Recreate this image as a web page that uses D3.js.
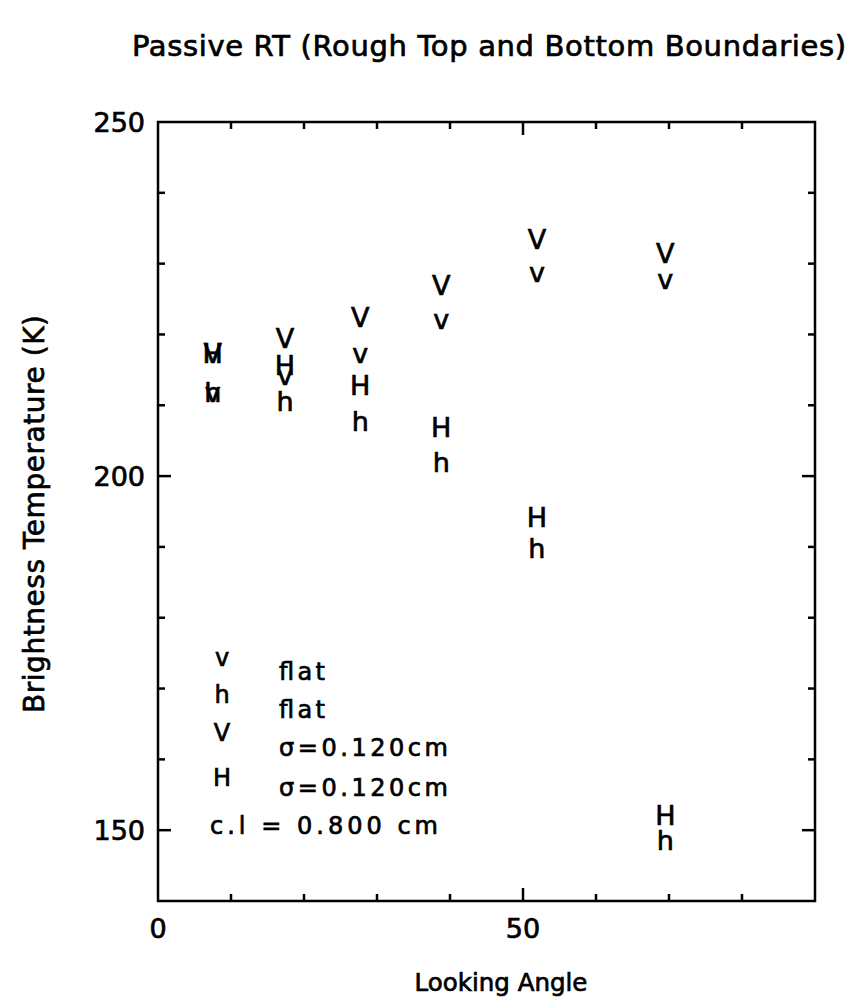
<!DOCTYPE html>
<html>
<head>
<meta charset="utf-8">
<title>Passive RT</title>
<script src="https://d3js.org/d3.v7.min.js"></script>
<style>
  body { margin: 0; background: #fff; }
  svg { display: block; }
  text { font-family: "DejaVu Sans", sans-serif; fill: #000; stroke: #000; stroke-width: 0.7px; }
</style>
</head>
<body>
<div id="chart"></div>
<script>
// data
const angles = [7.5, 17.4, 27.7, 38.8, 51.9, 69.5];
const vRough = [216.0, 218.1, 221.1, 225.6, 232.1, 230.1]; // V
const hRough = [216.0, 214.3, 211.5, 205.5, 192.8, 150.7]; // H
const vFlat  = [210.5, 212.9, 216.0, 220.8, 227.4, 226.4]; // v
const hFlat  = [210.5, 209.2, 206.4, 200.6, 188.4, 147.2]; // h

const xTicks = [0, 50];
const yTicks = [150, 200, 250];

const legendSymbols = ["v", "h", "V", "H"];
const legendLabels = ["flat", "flat", "\u03c3=0.120cm", "\u03c3=0.120cm"];
const noteText = "c.l = 0.800 cm";

const W = 850, H = 1005;
const pLeft = 158, pRight = 815, pTop = 122, pBottom = 901;

const svg = d3.select("#chart").append("svg")
  .attr("width", W).attr("height", H);

const x = d3.scaleLinear().domain([0, 90]).range([pLeft, pRight]);
const y = d3.scaleLinear().domain([140, 250]).range([pBottom, pTop]);

// frame
svg.append("rect")
  .attr("x", pLeft).attr("y", pTop)
  .attr("width", pRight - pLeft).attr("height", pBottom - pTop)
  .attr("fill", "none").attr("stroke", "#000").attr("stroke-width", 2.5);

// ticks: minor every 10, major at labelled values
function tickLen(v, majors) { return majors.includes(v) ? 13 : 7; }
const xt = d3.range(10, 90, 10);
const yt = d3.range(150, 250, 10);

const tk = svg.append("g").attr("stroke", "#000").attr("stroke-width", 2.5);
xt.forEach(v => {
  const L = tickLen(v, xTicks);
  tk.append("line").attr("x1", x(v)).attr("x2", x(v)).attr("y1", pBottom).attr("y2", pBottom - L);
  tk.append("line").attr("x1", x(v)).attr("x2", x(v)).attr("y1", pTop).attr("y2", pTop + L);
});
yt.forEach(v => {
  const L = tickLen(v, yTicks);
  tk.append("line").attr("y1", y(v)).attr("y2", y(v)).attr("x1", pLeft).attr("x2", pLeft + L);
  tk.append("line").attr("y1", y(v)).attr("y2", y(v)).attr("x1", pRight).attr("x2", pRight - L);
});

// tick labels
svg.selectAll(".xl").data(xTicks).enter().append("text")
  .attr("x", d => x(d)).attr("y", 938)
  .attr("text-anchor", "middle").attr("font-size", 27)
  .text(d => d);
svg.selectAll(".yl").data(yTicks).enter().append("text")
  .attr("x", 145).attr("y", d => y(d) + 10)
  .attr("text-anchor", "end").attr("font-size", 27)
  .text(d => d);

// titles
svg.append("text").attr("x", 132).attr("y", 56)
  .attr("font-size", 29).attr("textLength", 714).attr("lengthAdjust", "spacing")
  .text("Passive RT (Rough Top and Bottom Boundaries)");
svg.append("text").attr("x", 501).attr("y", 991)
  .attr("text-anchor", "middle").attr("font-size", 24.5)
  .text("Looking Angle");
svg.append("text")
  .attr("transform", "translate(44,713) rotate(-90)")
  .attr("font-size", 28).attr("textLength", 398).attr("lengthAdjust", "spacing")
  .text("Brightness Temperature (K)");

// data symbols
const series = [
  { sym: "V", vals: vRough },
  { sym: "H", vals: hRough },
  { sym: "v", vals: vFlat },
  { sym: "h", vals: hFlat }
];
series.forEach(s => {
  svg.append("g").selectAll("text").data(s.vals).enter().append("text")
    .attr("x", (d, i) => x(angles[i]))
    .attr("y", d => y(d))
    .attr("text-anchor", "middle")
    .attr("font-size", 27)
    .text(s.sym);
});

// legend
const lg = svg.append("g");
const symY = [666, 703, 741, 786];
const labY = [680, 718, 756, 796];
const labW = [46, 46, 169, 169];
legendSymbols.forEach((s, i) => {
  lg.append("text").attr("x", 222).attr("y", symY[i])
    .attr("text-anchor", "middle").attr("font-size", 24).text(s);
  lg.append("text").attr("x", 279).attr("y", labY[i])
    .attr("font-size", 24).attr("textLength", labW[i]).attr("lengthAdjust", "spacing")
    .text(legendLabels[i]);
});
lg.append("text").attr("x", 210).attr("y", 834)
  .attr("font-size", 24).attr("textLength", 228).attr("lengthAdjust", "spacing")
  .text(noteText);
</script>
</body>
</html>
